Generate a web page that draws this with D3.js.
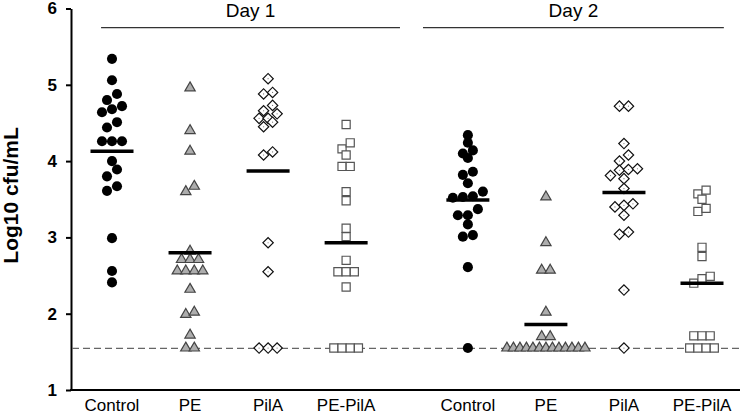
<!DOCTYPE html>
<html>
<head>
<meta charset="utf-8">
<script src="https://cdn.jsdelivr.net/npm/d3@7"></script>
<style>
body { margin: 0; background: #fff; }
text { font-family: "Liberation Sans", Arial, sans-serif; }
</style>
</head>
<body>
<svg id="chart"></svg>
<script>
const width = 742;
const height = 416;

// values
const groupNames = ['Control', 'PE', 'PilA', 'PE-PilA', 'Control', 'PE', 'PilA', 'PE-PilA'];
const dayNames = ['Day 1', 'Day 2'];
const control1 = [5.34, 5.06, 4.88, 4.80, 4.72, 4.68, 4.64, 4.51, 4.44, 4.26, 4.26, 4.26, 4.00, 3.89, 3.80, 3.67, 3.61, 2.99, 2.56, 2.41];
const pe1 = [4.96, 4.40, 4.13, 3.67, 3.60, 2.82, 2.71, 2.71, 2.71, 2.56, 2.56, 2.56, 2.56, 2.32, 2.02, 1.99, 1.72, 1.55, 1.55];
const pila1 = [5.08, 4.90, 4.88, 4.73, 4.66, 4.62, 4.56, 4.56, 4.51, 4.45, 4.12, 4.08, 2.93, 2.55, 1.55, 1.55, 1.55];
const pepila1 = [4.48, 4.24, 4.16, 4.08, 3.93, 3.93, 3.60, 3.48, 3.12, 3.01, 2.70, 2.55, 2.55, 2.55, 2.35, 1.55, 1.55, 1.55, 1.55];
const control2 = [4.34, 4.24, 4.14, 4.10, 4.04, 3.86, 3.82, 3.71, 3.60, 3.54, 3.53, 3.52, 3.37, 3.29, 3.29, 3.17, 3.03, 3.01, 2.61, 1.55];
const pe2 = [3.53, 2.93, 2.57, 2.57, 2.02, 1.70, 1.70, 1.55, 1.55, 1.55, 1.55, 1.55, 1.55, 1.55, 1.55, 1.55, 1.55, 1.55, 1.55, 1.55];
const pila2 = [4.72, 4.72, 4.23, 4.08, 4.00, 3.90, 3.89, 3.88, 3.81, 3.77, 3.64, 3.44, 3.42, 3.40, 3.29, 3.07, 3.04, 2.31, 1.55];
const pepila2 = [3.62, 3.57, 3.50, 3.38, 3.34, 2.87, 2.75, 2.49, 2.46, 2.40, 1.71, 1.71, 1.71, 1.55, 1.55, 1.55, 1.55];
const means = [4.13, 2.80, 3.87, 2.93, 3.49, 1.86, 3.59, 2.40];
const detectionLimit = 1.546;
const yTicks = [1, 2, 3, 4, 5, 6];

const groupValues = [control1, pe1, pila1, pepila1, control2, pe2, pila2, pepila2];

const svg = d3.select('#chart')
    .attr('width', width)
    .attr('height', height);

// slot position: a wider gap between the two days
const dayGap = 0.56;
const slot = i => i + (i >= 4 ? dayGap : 0);

const x = d3.scaleLinear().domain([0, 7 + dayGap]).range([112, 702]);
const y = d3.scaleLinear().domain([1, 6]).range([390, 8.5]);

const axisLeftX = 71;
const axisRightX = 740;

// marker styles by treatment (index % 4)
const markers = [
    {type: d3.symbolCircle, size: 80, fill: '#000', stroke: 'none', rot: 0, step: 10},
    {type: d3.symbolTriangle, size: 46, fill: '#adadad', stroke: '#444', rot: 0, step: 8.5},
    {type: d3.symbolSquare, size: 54, fill: '#fff', stroke: '#111', rot: 45, step: 9},
    {type: d3.symbolSquare, size: 66, fill: '#fff', stroke: '#555', rot: 0, step: 8.2}
];

// spread near-equal values sideways, higher values to the right
function dodge(values, step, maxWidth) {
    const sorted = values.slice().sort((a, b) => b - a);
    const rows = [];
    sorted.forEach(v => {
        const last = rows[rows.length - 1];
        if (last && Math.abs(y(v) - last.anchor) < 7) last.items.push(v);
        else rows.push({anchor: y(v), items: [v]});
    });
    const out = [];
    rows.forEach(r => {
        const n = r.items.length;
        const s = n > 1 ? Math.min(step, maxWidth / (n - 1)) : 0;
        r.items.slice().sort((a, b) => a - b).forEach((v, k) => {
            out.push({v: v, dx: (k - (n - 1) / 2) * s});
        });
    });
    return out;
}

// y axis
const yAxis = svg.append('g')
    .attr('transform', `translate(${axisLeftX},0)`)
    .call(d3.axisLeft(y).tickValues(yTicks).tickSize(5).tickSizeOuter(0).tickPadding(9).tickFormat(d3.format('d')));
yAxis.select('.domain').attr('stroke', '#000').attr('stroke-width', 2);
yAxis.selectAll('.tick line').attr('stroke', '#000').attr('stroke-width', 2);
yAxis.selectAll('.tick text')
    .attr('fill', '#000')
    .style('font-size', '17px')
    .style('font-weight', 'bold')
    .style('font-family', '"Liberation Sans", Arial, sans-serif');

svg.append('text')
    .attr('transform', `translate(18,${y(3.55)}) rotate(-90)`)
    .attr('text-anchor', 'middle')
    .style('font-size', '21px')
    .style('font-weight', 'bold')
    .text('Log10 cfu/mL');

// x axis line
svg.append('line')
    .attr('x1', axisLeftX - 1).attr('x2', axisRightX)
    .attr('y1', y(1)).attr('y2', y(1))
    .attr('stroke', '#000').attr('stroke-width', 2);

svg.selectAll('.xlabel')
    .data(groupNames)
    .enter().append('text')
    .attr('class', 'xlabel')
    .attr('x', (d, i) => x(slot(i)))
    .attr('y', 411)
    .attr('text-anchor', 'middle')
    .style('font-size', '17px')
    .text(d => d);

// detection limit
svg.append('line')
    .attr('x1', axisLeftX + 1).attr('x2', axisRightX)
    .attr('y1', y(detectionLimit)).attr('y2', y(detectionLimit))
    .attr('stroke', '#666').attr('stroke-width', 1.1)
    .attr('stroke-dasharray', '7,4');

// day headers
const dayLines = [[-0.14, 3.69], [3.985, 7.84]];
dayNames.forEach((name, i) => {
    const x1 = x(dayLines[i][0]), x2 = x(dayLines[i][1]);
    svg.append('line')
        .attr('x1', x1).attr('x2', x2)
        .attr('y1', 27.7).attr('y2', 27.7)
        .attr('stroke', '#333').attr('stroke-width', 1.3);
    svg.append('text')
        .attr('x', (x1 + x2) / 2)
        .attr('y', 17)
        .attr('text-anchor', 'middle')
        .style('font-size', '19px')
        .text(name);
});

// points
groupValues.forEach((vals, i) => {
    const m = markers[i % 4];
    const cx = x(slot(i));
    const pts = dodge(vals, m.step, 78);
    const g = svg.append('g');
    g.selectAll('path')
        .data(pts)
        .enter().append('path')
        .attr('d', d3.symbol().type(m.type).size(m.size))
        .attr('transform', d => `translate(${cx + d.dx},${y(d.v)}) rotate(${m.rot})`)
        .attr('fill', m.fill)
        .attr('stroke', m.stroke)
        .attr('stroke-width', 1.2);
    if (m.rot) {
        g.selectAll('circle')
            .data(pts)
            .enter().append('circle')
            .attr('cx', d => cx + d.dx)
            .attr('cy', d => y(d.v))
            .attr('r', 0.6)
            .attr('fill', '#777');
    }
});

// mean bars
svg.selectAll('.mean')
    .data(means)
    .enter().append('line')
    .attr('class', 'mean')
    .attr('x1', (d, i) => x(slot(i)) - 21.5)
    .attr('x2', (d, i) => x(slot(i)) + 21.5)
    .attr('y1', d => y(d))
    .attr('y2', d => y(d))
    .attr('stroke', '#000')
    .attr('stroke-width', 3.5);
</script>
</body>
</html>
